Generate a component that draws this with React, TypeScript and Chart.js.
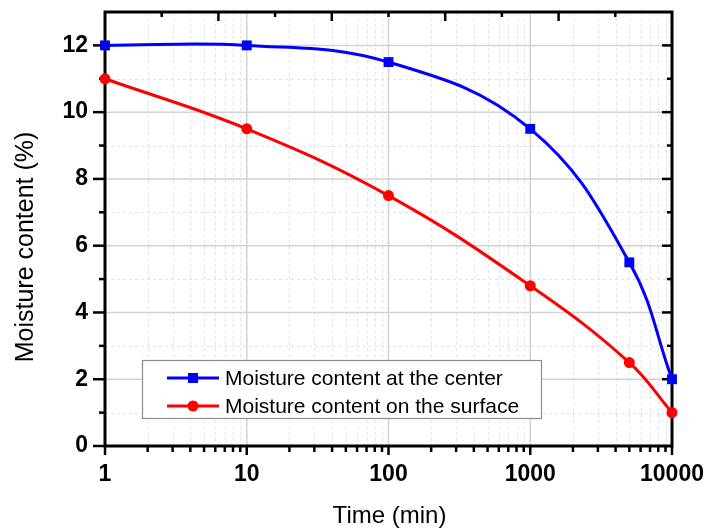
import React, { useEffect, useRef } from "react";
import { Chart, registerables } from "chart.js";

Chart.register(...registerables);

const timeMin = [1, 10, 100, 1000, 5000, 10000];
const centerMoisture = [12, 12, 11.5, 9.5, 5.5, 2];
const surfaceMoisture = [11, 9.5, 7.5, 4.8, 2.5, 1];
const xTickValues = [1, 10, 100, 1000, 10000];
const yTickValues = [0, 2, 4, 6, 8, 10, 12];
const seriesLabels = ["Moisture content at the center", "Moisture content on the surface"];
const xTitle = "Time (min)";
const yTitle = "Moisture content (%)";

const FONT = "'Liberation Sans', Arial, sans-serif";
const BLUE = "#0000ff";
const RED = "#ff0000";

const minorXValues = (): number[] => {
  const out: number[] = [];
  for (let d = 1; d < 10000; d *= 10) {
    for (let k = 2; k <= 9; k++) out.push(k * d);
  }
  return out;
};

const framePlugin = {
  id: "originFrame",
  beforeDatasetsDraw(chart: any) {
    const { ctx, chartArea } = chart;
    const { left, right, top, bottom } = chartArea;
    const xs = chart.scales.x;
    const ys = chart.scales.y;
    ctx.save();
    // minor grid (dashed)
    ctx.strokeStyle = "#e3e3e3";
    ctx.lineWidth = 1;
    ctx.setLineDash([3, 3]);
    for (const v of minorXValues()) {
      const px = Math.round(xs.getPixelForValue(v)) + 0.5;
      ctx.beginPath();
      ctx.moveTo(px, top);
      ctx.lineTo(px, bottom);
      ctx.stroke();
    }
    for (let v = 1; v < 13; v += 2) {
      const py = Math.round(ys.getPixelForValue(v)) + 0.5;
      ctx.beginPath();
      ctx.moveTo(left, py);
      ctx.lineTo(right, py);
      ctx.stroke();
    }
    // major grid
    ctx.setLineDash([]);
    ctx.strokeStyle = "#d2d2d2";
    ctx.lineWidth = 1.5;
    for (const v of [10, 100, 1000]) {
      const px = xs.getPixelForValue(v);
      ctx.beginPath();
      ctx.moveTo(px, top);
      ctx.lineTo(px, bottom);
      ctx.stroke();
    }
    for (const v of [2, 4, 6, 8, 10, 12]) {
      const py = ys.getPixelForValue(v);
      ctx.beginPath();
      ctx.moveTo(left, py);
      ctx.lineTo(right, py);
      ctx.stroke();
    }
    // ticks
    ctx.strokeStyle = "#000";
    ctx.lineWidth = 2.5;
    const line = (x1: number, y1: number, x2: number, y2: number) => {
      ctx.beginPath();
      ctx.moveTo(x1, y1);
      ctx.lineTo(x2, y2);
      ctx.stroke();
    };
    for (const v of xTickValues) {
      const px = xs.getPixelForValue(v);
      line(px, bottom, px, bottom + 9);
    }
    for (const v of minorXValues()) {
      const px = xs.getPixelForValue(v);
      line(px, bottom, px, bottom + 6);
    }
    for (let v = 1; v <= 12; v++) {
      const py = ys.getPixelForValue(v);
      const major = v % 2 === 0;
      line(left - (major ? 12 : 6), py, left, py);
      line(right - (major ? 10 : 5), py, right, py);
    }
    line(left - 12, ys.getPixelForValue(0), left, ys.getPixelForValue(0));
    for (let i = 1; i <= 9; i++) {
      const px = left + (i * (right - left)) / 10;
      line(px, top, px, top + (i % 2 === 0 ? 9 : 5));
    }
    // frame
    ctx.lineWidth = 3;
    ctx.lineCap = "square";
    ctx.strokeRect(left, top, right - left, bottom - top);
    ctx.restore();

    // axis titles
    ctx.save();
    ctx.fillStyle = "#000";
    ctx.font = `24px ${FONT}`;
    ctx.textAlign = "center";
    ctx.textBaseline = "alphabetic";
    ctx.fillText(xTitle, (left + right) / 2 + 1, 523);
    ctx.translate(33, 247);
    ctx.rotate(-Math.PI / 2);
    ctx.font = `25px ${FONT}`;
    ctx.fillText(yTitle, 0, 0);
    ctx.restore();
  },
  afterDatasetsDraw(chart: any) {
    const { ctx, chartArea } = chart;
    const { left, bottom } = chartArea;
    const bx = left + 37;
    const by = bottom - 86;
    const bw = 399;
    const bh = 58;
    ctx.save();
    ctx.fillStyle = "#fff";
    ctx.fillRect(bx, by, bw, bh);
    ctx.strokeStyle = "#8c8c8c";
    ctx.lineWidth = 1.2;
    ctx.strokeRect(bx + 0.5, by + 0.5, bw, bh);
    const rows = [
      { y: by + 18, color: BLUE, style: "rect", label: seriesLabels[0] },
      { y: by + 46, color: RED, style: "circle", label: seriesLabels[1] },
    ];
    ctx.font = `21px ${FONT}`;
    ctx.textBaseline = "middle";
    ctx.textAlign = "left";
    for (const r of rows) {
      ctx.strokeStyle = r.color;
      ctx.fillStyle = r.color;
      ctx.lineWidth = 3;
      ctx.beginPath();
      ctx.moveTo(bx + 25, r.y);
      ctx.lineTo(bx + 77, r.y);
      ctx.stroke();
      const cx = bx + 51;
      if (r.style === "rect") {
        ctx.fillRect(cx - 5, r.y - 5, 10, 10);
      } else {
        ctx.beginPath();
        ctx.arc(cx, r.y, 5.5, 0, Math.PI * 2);
        ctx.fill();
      }
      ctx.fillStyle = "#000";
      ctx.fillText(r.label, bx + 83, r.y + 1);
    }
    ctx.restore();
  },
};

export default function App() {
  const canvasRef = useRef<HTMLCanvasElement | null>(null);

  useEffect(() => {
    if (!canvasRef.current) return;
    const chart = new Chart(canvasRef.current, {
      type: "line",
      data: {
        datasets: [
          {
            label: seriesLabels[0],
            data: timeMin.map((t, i) => ({ x: t, y: centerMoisture[i] })),
            borderColor: BLUE,
            backgroundColor: BLUE,
            borderWidth: 3,
            pointStyle: "rect",
            pointRadius: 7,
            pointBorderWidth: 0,
            tension: 0.4,
            clip: false as any,
          },
          {
            label: seriesLabels[1],
            data: timeMin.map((t, i) => ({ x: t, y: surfaceMoisture[i] })),
            borderColor: RED,
            backgroundColor: RED,
            borderWidth: 3,
            pointStyle: "circle",
            pointRadius: 5.5,
            pointBorderWidth: 0,
            tension: 0.4,
            clip: false as any,
          },
        ],
      },
      options: {
        responsive: false,
        animation: false,
        devicePixelRatio: 1,
        layout: { padding: { top: 12, right: 38, left: 0, bottom: 0 } },
        plugins: {
          legend: { display: false },
          tooltip: { enabled: false },
        },
        scales: {
          x: {
            type: "logarithmic",
            min: 1,
            max: 10000,
            afterBuildTicks: (scale: any) => {
              scale.ticks = xTickValues.map((v) => ({ value: v, major: true }));
            },
            afterFit: (scale: any) => {
              scale.height = 83;
              scale.paddingLeft = 0;
              scale.paddingRight = 0;
            },
            grid: { drawOnChartArea: false, drawTicks: true, tickLength: 9, color: "rgba(0,0,0,0)" },
            border: { display: false },
            ticks: {
              color: "#000",
              padding: 6,
              maxRotation: 0,
              autoSkip: false,
              font: { family: FONT, size: 23, weight: "bold" },
              callback: (v: any) => String(v),
            },
          },
          y: {
            type: "linear",
            min: 0,
            max: 13,
            afterBuildTicks: (scale: any) => {
              scale.ticks = yTickValues.map((v) => ({ value: v }));
            },
            afterFit: (scale: any) => {
              scale.width = 105;
              scale.paddingTop = 0;
              scale.paddingBottom = 0;
            },
            grid: { drawOnChartArea: false, drawTicks: true, tickLength: 12, color: "rgba(0,0,0,0)" },
            border: { display: false },
            ticks: {
              color: "#000",
              padding: 5,
              font: { family: FONT, size: 23, weight: "bold" },
              callback: (v: any) => String(v),
            },
          },
        },
      },
      plugins: [framePlugin],
    } as any);
    return () => chart.destroy();
  }, []);

  return (
    <div style={{ position: "absolute", left: 0, top: 0, width: 710, height: 529, background: "#fff" }}>
      <canvas ref={canvasRef} width={710} height={529} />
    </div>
  );
}
